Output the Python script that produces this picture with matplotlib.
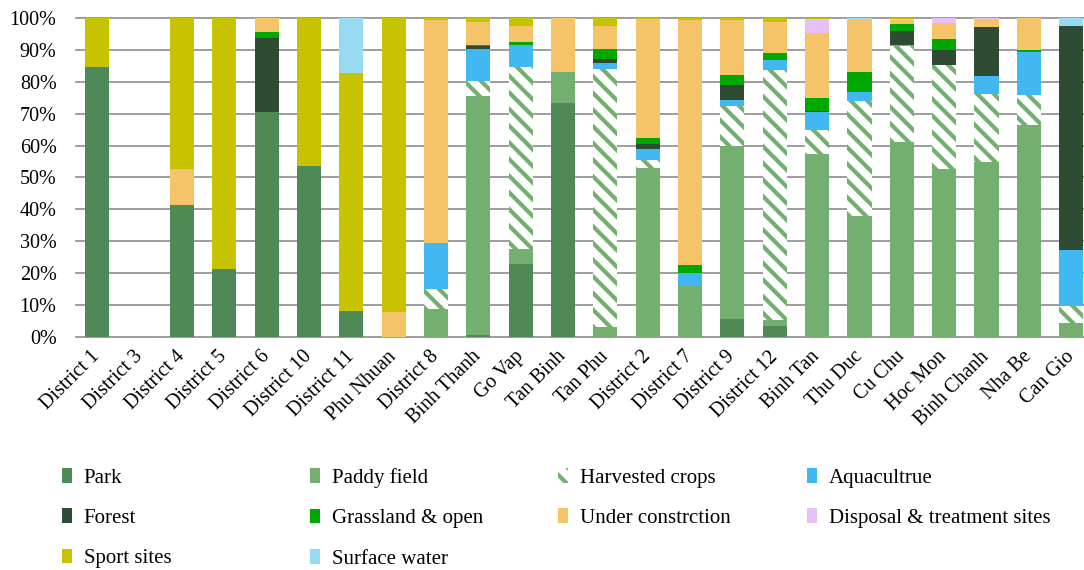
import matplotlib
matplotlib.use("Agg")
import matplotlib.pyplot as plt
from matplotlib.patches import Patch
from matplotlib.ticker import FuncFormatter
import numpy as np

plt.rcParams['font.family'] = ['Liberation Serif', 'DejaVu Serif']
plt.rcParams['hatch.linewidth'] = 3.0

districts = ["District 1", "District 3", "District 4", "District 5", "District 6",
             "District 10", "District 11", "Phu Nhuan", "District 8", "Binh Thanh",
             "Go Vap", "Tan Binh", "Tan Phu", "District 2", "District 7", "District 9",
             "District 12", "Binh Tan", "Thu Duc", "Cu Chu", "Hoc Mon", "Binh Chanh",
             "Nha Be", "Can Gio"]

# land-use shares (%) per district, stacked bottom to top in this order
park = [84.7, 0, 41.5, 21.5, 70.5, 53.7, 8.3, 0, 0, 0.7, 22.9, 73.2,
        0, 0, 0, 5.8, 3.6, 0, 0, 0, 0, 0, 0, 0]
paddy = [0, 0, 0, 0, 0, 0, 0, 0, 8.9, 74.7, 4.8, 9.7,
         3.3, 53.1, 16.1, 54.2, 1.7, 57.2, 38.0, 61.1, 52.7, 55.0, 66.4, 4.6]
harvested = [0, 0, 0, 0, 0, 0, 0, 0, 6.3, 4.7, 57.0, 0,
             80.7, 2.4, 0, 12.4, 78.2, 7.7, 36.0, 29.9, 32.4, 21.1, 9.5, 5.3]
aqua = [0, 0, 0, 0, 0, 0, 0, 0, 14.4, 10.2, 6.8, 0,
        1.8, 3.5, 4.1, 1.7, 3.3, 5.6, 2.6, 0.5, 0.2, 5.7, 13.5, 17.5]
forest = [0, 0, 0, 0, 23.3, 0, 0, 0, 0, 1.0, 0, 0,
          1.4, 1.5, 0, 4.9, 0, 0.2, 0, 4.2, 4.6, 15.2, 0, 69.9]
grass = [0, 0, 0, 0, 1.7, 0, 0, 0, 0, 0.3, 0.8, 0,
         2.9, 1.8, 2.5, 3.1, 2.1, 4.3, 6.3, 2.4, 3.3, 0, 0.6, 0.2]
under_constr = [0, 0, 11.2, 0, 4.5, 0, 0, 7.9, 69.6, 6.9, 5.2, 17.1,
                7.2, 37.4, 76.5, 17.3, 9.8, 20.3, 16.8, 1.1, 5.0, 2.7, 10.0, 0]
disposal = [0, 0, 0, 0, 0, 0, 0, 0, 0, 0, 0, 0,
            0, 0, 0, 0, 0, 4.4, 0, 0.5, 1.8, 0.3, 0, 0]
sport = [15.3, 0, 47.3, 78.5, 0, 46.3, 74.3, 92.1, 0.8, 1.6, 2.5, 0,
         2.7, 0.3, 0.8, 0.6, 1.3, 0.3, 0, 0.3, 0, 0, 0, 0]
surface_water = [0, 0, 0, 0, 0, 0, 17.4, 0, 0, 0, 0, 0,
                 0, 0, 0, 0, 0, 0, 0.3, 0, 0, 0, 0, 2.5]

series = [
    ("Park", park, "#4F8A56", None),
    ("Paddy field", paddy, "#73B070", None),
    ("Harvested crops", harvested, "#73B070", "\\\\"),
    ("Aquacultrue", aqua, "#42B8F2", None),
    ("Forest", forest, "#2D4C33", None),
    ("Grassland & open", grass, "#00A800", None),
    ("Under constrction", under_constr, "#F5C469", None),
    ("Disposal & treatment sites", disposal, "#E6C1F7", None),
    ("Sport sites", sport, "#C8C300", None),
    ("Surface water", surface_water, "#97DAF2", None),
]

fig = plt.figure(figsize=(10.84, 5.70), dpi=100)
ax = fig.add_axes([76 / 1084, 1 - 337.3 / 570, 1 - 76 / 1084, (337.3 - 17.7) / 570])

x = np.arange(len(districts))
bottom = np.zeros(len(districts))
handles = []
for name, vals, color, hatch in series:
    vals = np.array(vals, dtype=float)
    if hatch:
        ax.bar(x, vals, 0.57, bottom=bottom, facecolor="white", edgecolor=color,
               hatch=hatch, linewidth=0, zorder=2)
        handles.append(Patch(facecolor="white", edgecolor=color, hatch=hatch,
                             linewidth=0, label=name))
    else:
        ax.bar(x, vals, 0.57, bottom=bottom, color=color, linewidth=0, zorder=2)
        handles.append(Patch(facecolor=color, linewidth=0, label=name))
    bottom += vals

ax.set_xlim(-0.5, -0.5 + 1008 / 42.35)
ax.set_ylim(0, 100)
ax.set_yticks(np.arange(0, 101, 10))
ax.yaxis.set_major_formatter(FuncFormatter(lambda v, p: f"{v:.0f}%"))
ax.set_xticks(x)
ax.set_xticklabels(districts, rotation=45, ha="right", va="center",
                   rotation_mode="anchor")
ax.tick_params(axis="y", length=0, pad=14, labelsize=14.5)
ax.tick_params(axis="x", length=0, pad=12, labelsize=14.5)
for s in ax.spines.values():
    s.set_visible(False)
ax.set_axisbelow(True)
ax.grid(axis="y", color="#8C8C8C", linewidth=1.2)
for gl in ax.get_ygridlines():
    gl.set_clip_on(False)

# legend laid out in four evenly spaced columns
col_x = [62, 310, 558, 807]
for c in range(4):
    col = handles[c::4]
    fig.legend(handles=col, loc="upper left",
               bbox_to_anchor=(col_x[c] / 1084, 1 - 468 / 570),
               frameon=False, fontsize=15, handlelength=0.5, handleheight=0.7,
               handletextpad=0.55, labelspacing=1.0, borderaxespad=0,
               borderpad=0)

fig.savefig("out.png", dpi=100)
